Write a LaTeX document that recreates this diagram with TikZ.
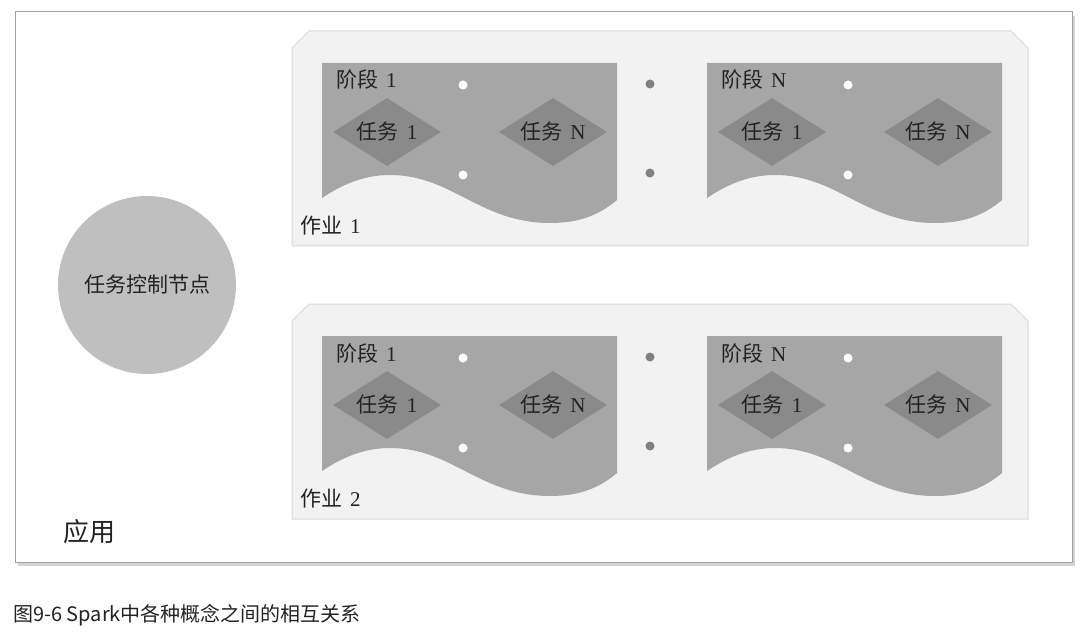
\documentclass[tikz,border=0pt]{standalone}
\usepackage{fontspec}
\setmainfont{Liberation Serif}
\newfontfamily\cjk{Noto Sans CJK SC}
\usetikzlibrary{shapes.geometric,shadows}
\definecolor{framegray}{HTML}{A0A0A0}
\definecolor{jobgray}{HTML}{F2F2F2}
\definecolor{jobline}{HTML}{D9D9D9}
\definecolor{stagegray}{HTML}{A6A6A6}
\definecolor{taskgray}{HTML}{8A8A8A}
\definecolor{drivergray}{HTML}{BFBFBF}
\definecolor{dotgray}{HTML}{808080}
\definecolor{txt}{HTML}{222222}
\begin{document}
\begin{tikzpicture}[x=1pt, y=-1pt]
        \tikzset{Job/.style={fill=jobgray, draw=jobline, line width=1pt}}
        \tikzset{Stage/.style={fill=stagegray}}
        \tikzset{Task/.style={shape=diamond, fill=taskgray, aspect=1.6, minimum width=108pt, minimum height=68pt, inner sep=0pt, text=txt, font=\fontsize{21}{21}\selectfont}}
        \tikzset{Lbl/.style={anchor=west, inner sep=0pt, text=txt, font=\fontsize{21}{21}\selectfont}}
        \tikzset{Dot/.style={shape=circle, fill=white, minimum size=9pt, inner sep=0pt}}
        \tikzset{GDot/.style={shape=circle, fill=dotgray, minimum size=9pt, inner sep=0pt}}
        \useasboundingbox (0,0) rectangle (1089,636);

        % application frame
        \draw[draw=framegray, fill=white, line width=1pt, drop shadow={opacity=0.35, shadow xshift=3pt, shadow yshift=-4pt}] (15,12) rectangle (1072,562);
        \node[anchor=west, inner sep=0pt, text=txt, font=\fontsize{26}{26}\selectfont\cjk] (app) at (63,532) {应用};

        % driver
        \node[shape=circle, fill=drivergray, minimum size=178pt, inner sep=0pt, text=txt, font=\fontsize{21}{21}\selectfont\cjk] (driver) at (147,285) {任务控制节点};

        % jobs
        \foreach \j/\dy in {1/0, 2/273} {
          \begin{scope}[shift={(0,\dy)}]
            \draw[Job] (292,48) -- (309,31) -- (1011,31) -- (1028,48) -- (1028,246) -- (292,246) -- cycle;
            \foreach \s/\sx in {1/0, N/385} {
              \begin{scope}[shift={(\sx,0)}]
                \fill[Stage] (322,63) -- (617,63) -- (617,200)
                  .. controls (598,216) and (578,223) .. (550,223)
                  .. controls (480,223) and (452,175) .. (390,175)
                  .. controls (362,175) and (340,186) .. (322,198) -- cycle;
                \node[Lbl] (job\j-stage\s) at (336,80) {{\cjk 阶段}\hspace{8pt}\s};
                \node[Task] (job\j-stage\s-t1) at (387,132) {{\cjk 任务}\hspace{8pt}1};
                \node[Task] (job\j-stage\s-tN) at (553,132) {{\cjk 任务}\hspace{8pt}N};
                \node[Dot] (job\j-stage\s-d1) at (463,85) {};
                \node[Dot] (job\j-stage\s-d2) at (463,175) {};
              \end{scope}
            }
            \node[GDot] (job\j-g1) at (650,84) {};
            \node[GDot] (job\j-g2) at (650,173) {};
            \node[Lbl] (job\j) at (300,226) {{\cjk 作业}\hspace{8pt}\j};
          \end{scope}
        }

        % caption
        \node[anchor=west, inner sep=0pt, text=txt, font=\fontsize{20}{20}\selectfont\cjk] (caption) at (13,615) {图9-6 Spark中各种概念之间的相互关系};
\end{tikzpicture}
\end{document}
